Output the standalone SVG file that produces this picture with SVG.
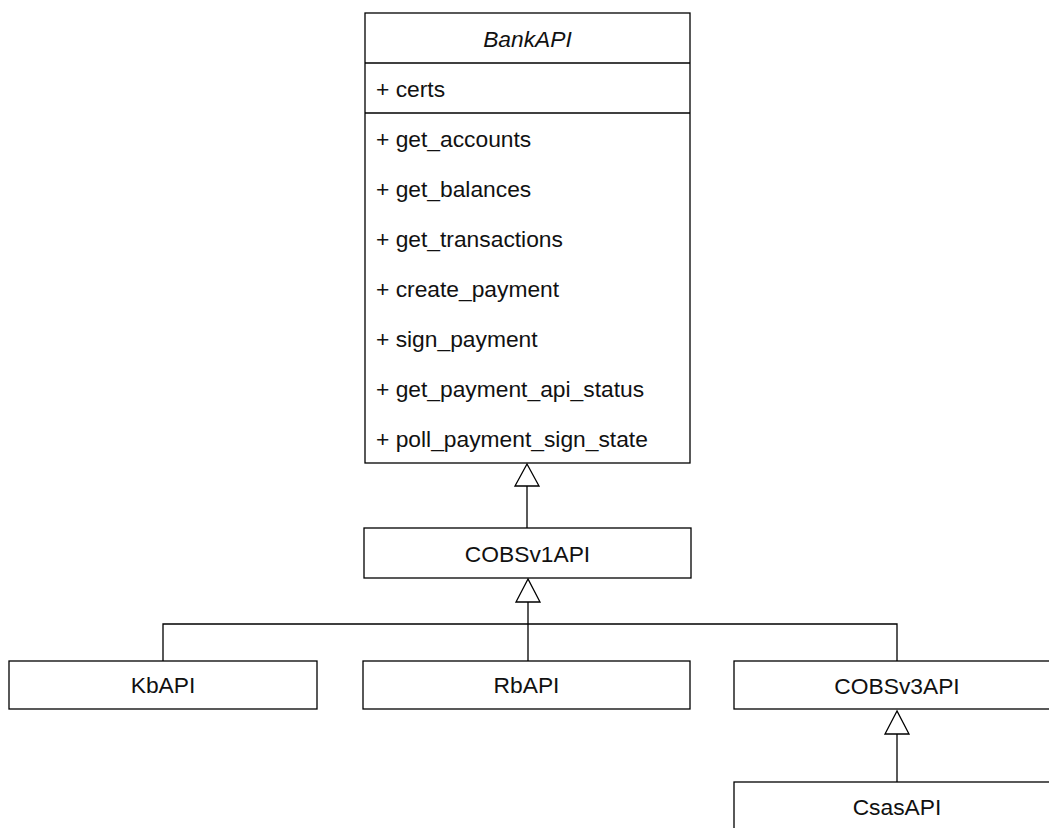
<svg xmlns="http://www.w3.org/2000/svg" width="1049" height="828" viewBox="0 0 1049 828">
  <style>
    .box { fill: #ffffff; stroke: #000000; stroke-width: 1.3; }
    .edge { fill: none; stroke: #000000; stroke-width: 1.3; }
    .head { fill: #ffffff; stroke: #000000; stroke-width: 1.3; }
    .lbl { font-family: "Liberation Sans", Arial, sans-serif; font-size: 22.8px; fill: #111111; }
    .mid { text-anchor: middle; }
  </style>
  <rect width="1049" height="828" fill="#ffffff"/>

  <!-- generalization connectors -->
  <g id="connectors">
    <path class="edge" d="M527 486 V528"/>
    <polygon class="head" points="527,464 515,486 539,486"/>
    <path class="edge" d="M528 602 V661 M163 661 V624 H897 V661"/>
    <polygon class="head" points="528,579 516,602 540,602"/>
    <path class="edge" d="M897 734 V782"/>
    <polygon class="head" points="897,711 885,734 909,734"/>
  </g>

  <g id="BankAPI">
    <rect class="box" x="365" y="13" width="325" height="450"/>
    <line class="edge" x1="365" y1="63" x2="690" y2="63"/>
    <line class="edge" x1="365" y1="113" x2="690" y2="113"/>
    <text class="lbl mid" x="527.5" y="47" font-style="italic">BankAPI</text>
    <text class="lbl" x="376" y="97">+ certs</text>
    <text class="lbl" x="376" y="147">+ get_accounts</text>
    <text class="lbl" x="376" y="197">+ get_balances</text>
    <text class="lbl" x="376" y="247">+ get_transactions</text>
    <text class="lbl" x="376" y="297">+ create_payment</text>
    <text class="lbl" x="376" y="347">+ sign_payment</text>
    <text class="lbl" x="376" y="397">+ get_payment_api_status</text>
    <text class="lbl" x="376" y="447">+ poll_payment_sign_state</text>
  </g>

  <g id="COBSv1API">
    <rect class="box" x="364" y="528" width="327" height="50"/>
    <text class="lbl mid" x="527.5" y="562">COBSv1API</text>
  </g>

  <g id="KbAPI">
    <rect class="box" x="9" y="661" width="308" height="48"/>
    <text class="lbl mid" x="163" y="693">KbAPI</text>
  </g>

  <g id="RbAPI">
    <rect class="box" x="363" y="661" width="327" height="48"/>
    <text class="lbl mid" x="526.5" y="693">RbAPI</text>
  </g>

  <g id="COBSv3API">
    <rect class="box" x="734" y="661" width="327" height="48"/>
    <text class="lbl mid" x="897" y="694">COBSv3API</text>
  </g>

  <g id="CsasAPI">
    <rect class="box" x="734" y="782" width="327" height="60"/>
    <text class="lbl mid" x="897" y="815">CsasAPI</text>
  </g>
</svg>
